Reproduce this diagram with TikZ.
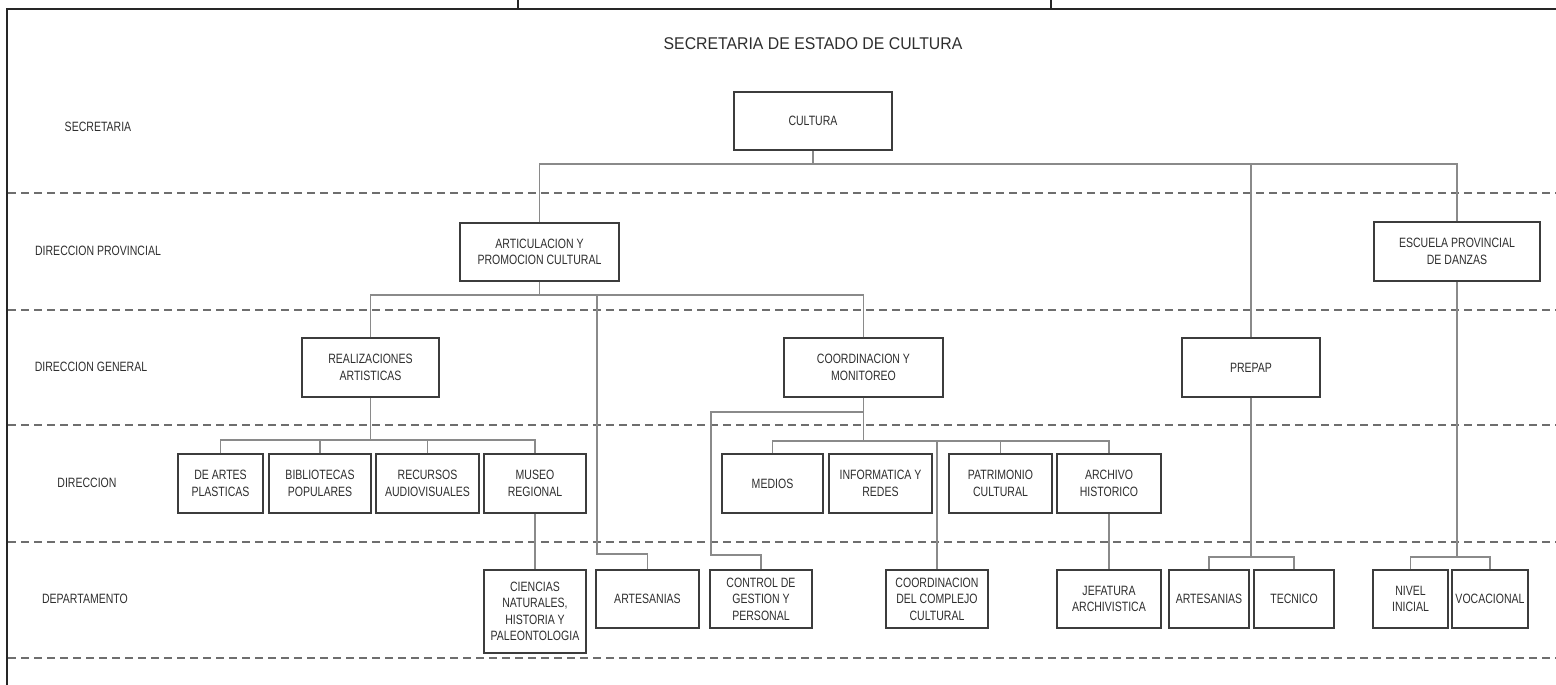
\documentclass[tikz,border=0pt]{standalone}
\usepackage{fontspec}
\setmainfont{Liberation Sans}[FakeStretch=0.78]
\newfontfamily\titlefont{Liberation Sans}[FakeStretch=0.93]
\usetikzlibrary{calc}
\definecolor{boxline}{HTML}{3C3C3C}
\definecolor{connline}{HTML}{8A8A8A}
\definecolor{dashline}{HTML}{6E6E6E}
\definecolor{txt}{HTML}{2E2E2E}
\tikzset{
  unit/.style={draw=boxline, line width=1.4pt, fill=white, inner sep=0pt, align=center,
    text=txt, font=\fontsize{13.5}{16.5}\selectfont},
  conn/.style={draw=connline, line width=1.1pt},
  level/.style={draw=dashline, line width=1.5pt, dash pattern=on 8pt off 5pt},
  lbl/.style={text=txt, font=\fontsize{13.5}{16.5}\selectfont, inner sep=0pt},
  frameline/.style={draw=black!85, line width=1.8pt}
}
\begin{document}
\begin{tikzpicture}[x=1pt,y=-1pt]
\useasboundingbox (0,0) rectangle (1556,685);
% frame
\draw[frameline] (7,685) -- (7,9) -- (1556,9);
\draw[frameline, line width=1.3pt] (518,0) -- (518,9);
\draw[frameline, line width=1.3pt] (1051,0) -- (1051,9);
% level separators
\foreach \yy in {193,310,425,542,658} \draw[level] (8,\yy) -- (1556,\yy);
% title and level labels
\node[text=txt, font=\titlefont\fontsize{17}{20}\selectfont, inner sep=0pt] (title) at (813,44) {SECRETARIA DE ESTADO DE CULTURA};
\node[lbl] (lSec) at (98,127) {SECRETARIA};
\node[lbl] (lDP) at (98,251) {DIRECCION PROVINCIAL};
\node[lbl] (lDG) at (91,367) {DIRECCION GENERAL};
\node[lbl] (lDir) at (87,483) {DIRECCION};
\node[lbl] (lDep) at (85,599) {DEPARTAMENTO};
% boxes
\node[unit, minimum width=158pt, minimum height=58pt] (cultura) at (813,121) {CULTURA};
\node[unit, minimum width=159pt, minimum height=58pt] (artic) at (539.5,252) {ARTICULACION Y\\PROMOCION CULTURAL};
\node[unit, minimum width=166pt, minimum height=59pt] (escuela) at (1457,251.5) {ESCUELA PROVINCIAL\\DE DANZAS};
\node[unit, minimum width=137pt, minimum height=59pt] (real) at (370.5,367.5) {REALIZACIONES\\ARTISTICAS};
\node[unit, minimum width=159pt, minimum height=59pt] (coord) at (863.5,367.5) {COORDINACION Y\\MONITOREO};
\node[unit, minimum width=138pt, minimum height=59pt] (prepap) at (1251,367.5) {PREPAP};
\node[unit, minimum width=85pt, minimum height=59pt] (artes) at (220.5,483.5) {DE ARTES\\PLASTICAS};
\node[unit, minimum width=102pt, minimum height=59pt] (biblio) at (320,483.5) {BIBLIOTECAS\\POPULARES};
\node[unit, minimum width=103pt, minimum height=59pt] (recursos) at (427.5,483.5) {RECURSOS\\AUDIOVISUALES};
\node[unit, minimum width=102pt, minimum height=59pt] (museo) at (535,483.5) {MUSEO\\REGIONAL};
\node[unit, minimum width=101pt, minimum height=59pt] (medios) at (772.5,483.5) {MEDIOS};
\node[unit, minimum width=103pt, minimum height=59pt] (inform) at (880.5,483.5) {INFORMATICA Y\\REDES};
\node[unit, minimum width=103pt, minimum height=59pt] (patri) at (1000.5,483.5) {PATRIMONIO\\CULTURAL};
\node[unit, minimum width=104pt, minimum height=59pt] (archivo) at (1109,483.5) {ARCHIVO\\HISTORICO};
\node[unit, minimum width=102pt, minimum height=83pt] (ciencias) at (535,611.5) {CIENCIAS\\NATURALES,\\HISTORIA Y\\PALEONTOLOGIA};
\node[unit, minimum width=103pt, minimum height=58pt] (artesA) at (647.5,599) {ARTESANIAS};
\node[unit, minimum width=102pt, minimum height=58pt] (control) at (761,599) {CONTROL DE\\GESTION Y\\PERSONAL};
\node[unit, minimum width=102pt, minimum height=58pt] (complejo) at (937,599) {COORDINACION\\DEL COMPLEJO\\CULTURAL};
\node[unit, minimum width=104pt, minimum height=58pt] (jefatura) at (1109,599) {JEFATURA\\ARCHIVISTICA};
\node[unit, minimum width=80pt, minimum height=58pt] (artesB) at (1209,599) {ARTESANIAS};
\node[unit, minimum width=80pt, minimum height=58pt] (tecnico) at (1294,599) {TECNICO};
\node[unit, minimum width=75pt, minimum height=58pt] (nivel) at (1410.5,599) {NIVEL\\INICIAL};
\node[unit, minimum width=76pt, minimum height=58pt] (vocacional) at (1490,599) {VOCACIONAL};
% bus coordinates
\coordinate (bus1) at (813,164);
\coordinate (bus2) at (539.5,295);
\coordinate (tapA) at (597,295);
\coordinate (elbowA) at (597,554);
\coordinate (bus3) at (370.5,440);
\coordinate (bus4) at (863.5,441);
\coordinate (tapC) at (863.5,412);
\coordinate (elbowC) at (711,555);
\coordinate (busP) at (1251,557);
\coordinate (busE) at (1457,557);
% connectors
\begin{scope}[on background layer/.style={}]
\draw[conn] (cultura.south) -- (bus1);
\draw[conn] (artic.north) |- (bus1);
\draw[conn] (escuela.north) |- (bus1);
\draw[conn] (prepap.north) -- (prepap.north |- bus1);
\draw[conn] (artic.south) -- (bus2);
\draw[conn] (real.north) |- (bus2);
\draw[conn] (coord.north) |- (bus2);
\draw[conn] (tapA) -- (elbowA) -| (artesA.north);
\draw[conn] (real.south) -- (bus3);
\draw[conn] (artes.north) |- (bus3);
\draw[conn] (museo.north) |- (bus3);
\draw[conn] (biblio.north) -- (biblio.north |- bus3);
\draw[conn] (recursos.north) -- (recursos.north |- bus3);
\draw[conn] (museo.south) -- (ciencias.north);
\draw[conn] (coord.south) -- (bus4);
\draw[conn] (medios.north) |- (bus4);
\draw[conn] (archivo.north) |- (bus4);
\draw[conn] (patri.north) -- (patri.north |- bus4);
\draw[conn] (complejo.north) -- (complejo.north |- bus4);
\draw[conn] (tapC) -| (elbowC) -| (control.north);
\draw[conn] (archivo.south) -- (jefatura.north);
\draw[conn] (prepap.south) -- (busP);
\draw[conn] (artesB.north) |- (busP) -| (tecnico.north);
\draw[conn] (escuela.south) -- (busE);
\draw[conn] (nivel.north) |- (busE) -| (vocacional.north);
\end{scope}
\end{tikzpicture}
\end{document}
